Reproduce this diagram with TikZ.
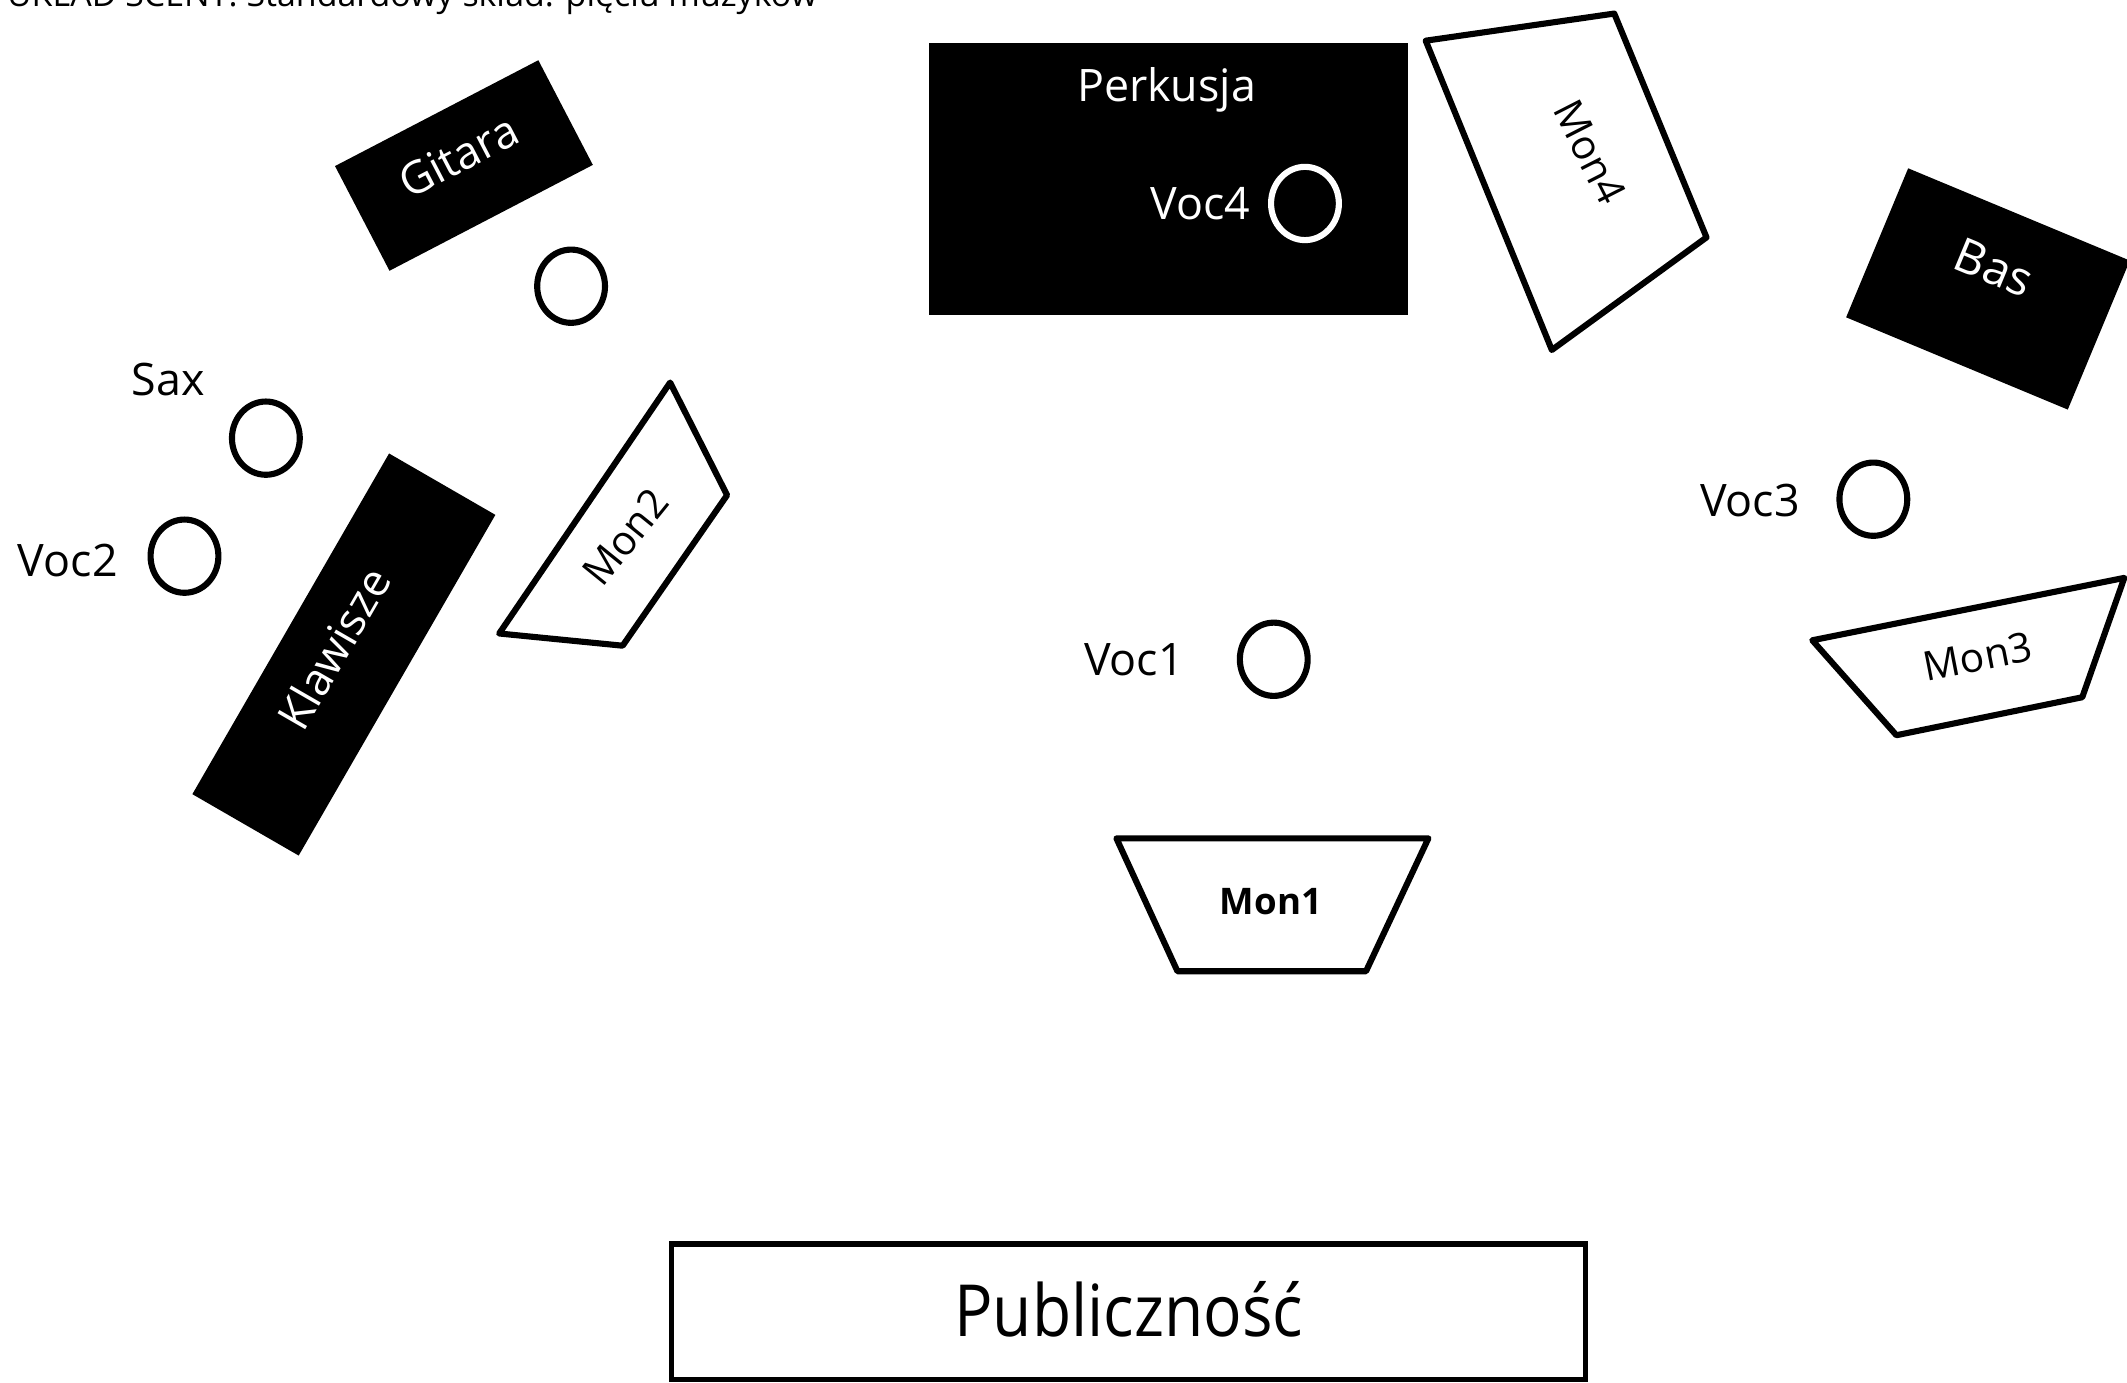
\documentclass[tikz,border=0pt]{standalone}
\usepackage{fontspec}
\setmainfont{Open Sans}
\usetikzlibrary{shapes.geometric}
\begin{document}
\begin{tikzpicture}[x=1pt,y=-1pt,
  instr/.style={rectangle, fill=black, draw=none, inner sep=0pt},
  lbl/.style={font=\fontsize{33}{40}\selectfont, inner sep=0pt},
  wlbl/.style={lbl, text=white},
  monlbl/.style={font=\fontsize{30}{36}\selectfont, inner sep=0pt},
  mic/.style={ellipse, draw=black, line width=4.5pt, minimum width=50pt, minimum height=54pt, inner sep=0pt},
  wmic/.style={mic, draw=white},
  mon/.style={draw=black, line width=4.5pt, line join=round, fill=white}]
\useasboundingbox (0,0) rectangle (1568,1019.5);

% title (cut off at the top edge)
\node[anchor=base west, inner sep=0pt, font=\fontsize{25}{30}\selectfont] (title) at (5,5) {UKŁAD SCENY: Standardowy skład: pięciu muzyków};

% Gitara
\node[instr, minimum width=169pt, minimum height=87pt, rotate=27.5] (gitara) at (342,122) {};
\node[wlbl, rotate=27.5] (gitaraT) at (338,115) {Gitara};
\node[mic] (micg) at (421,211) {};

% Sax
\node[lbl] (saxT) at (124,280) {Sax};
\node[mic] (sax) at (196,323) {};

% Voc2
\node[lbl] (voc2T) at (50,413) {Voc2};
\node[mic] (voc2) at (136,410) {};

% Klawisze
\node[instr, minimum width=290pt, minimum height=90.5pt, rotate=60] (klaw) at (253.5,482.5) {};
\node[wlbl, rotate=60] (klawT) at (246,478) {Klawisze};

% Mon2
\draw[mon] (494,282) -- (536,365) -- (459,476) -- (368,467) -- cycle;
\node[monlbl, rotate=51] (mon2T) at (461,396) {Mon2};

% Perkusja
\node[instr, minimum width=353pt, minimum height=200pt] (perk) at (861.5,132) {};
\node[wlbl] (perkT) at (860,66) {Perkusja};
\node[wlbl] (voc4T) at (885,150) {Voc4};
\node[wmic] (voc4) at (962,150) {};

% Mon4
\draw[mon] (1051,30) -- (1190,10) -- (1258,175) -- (1144,258) -- cycle;
\node[monlbl, rotate=-63] (mon4T) at (1172,112) {Mon4};

% Bas
\node[instr, minimum width=177pt, minimum height=119pt, rotate=-22.6] (bas) at (1465.5,213) {};
\node[wlbl, rotate=-22.6, font=\fontsize{35}{40}\selectfont] (basT) at (1470,197) {Bas};

% Voc3
\node[lbl] (voc3T) at (1290,369) {Voc3};
\node[mic] (voc3) at (1381,368) {};

% Mon3
\draw[mon] (1336,472) -- (1566,426) -- (1535,514) -- (1398,542) -- cycle;
\node[monlbl, rotate=11] (mon3T) at (1458,484) {Mon3};

% Voc1
\node[lbl] (voc1T) at (836,486) {Voc1};
\node[mic] (voc1) at (939,486) {};

% Mon1
\draw[mon] (823,618) -- (1053,618) -- (1007,716) -- (868,716) -- cycle;
\node[inner sep=0pt, font=\bfseries\fontsize{27}{32}\selectfont] (mon1T) at (937,665) {Mon1};

% Publicznosc
\node[rectangle, draw=black, line width=4pt, minimum width=674pt, minimum height=100pt, inner sep=0pt] (pub) at (832,967) {};
\node[inner sep=0pt, xscale=0.89, font=\fontsize{53}{60}\selectfont] (pubT) at (832,965) {Publiczność};
\end{tikzpicture}
\end{document}
